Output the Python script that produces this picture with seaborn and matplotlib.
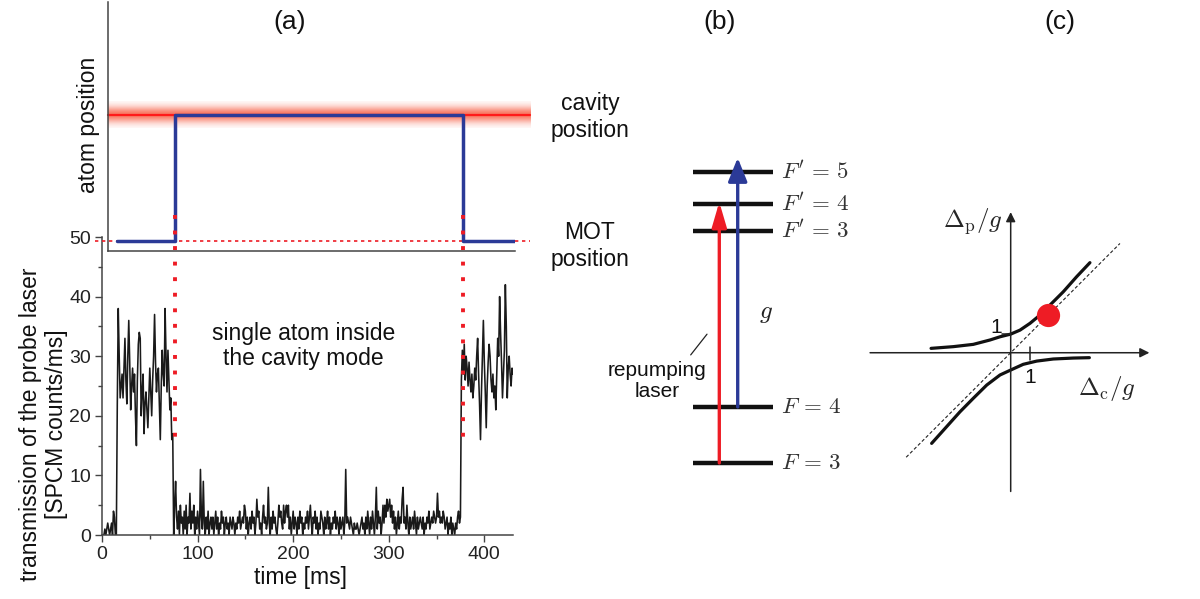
import numpy as np
import pandas as pd
import matplotlib
matplotlib.use('Agg')
import matplotlib.pyplot as plt
import seaborn as sns

# ---------------- data ----------------
# (a) probe transmission [SPCM counts/ms], one sample per ms
before_load = [0, 0, 0, 1, 0, 1, 2, 1, 0, 1, 2, 0, 4, 3, 0, 0]
atom_loading = [22, 38, 30, 23, 25, 27, 23, 28, 33, 26, 22, 30, 36, 29, 21, 25, 28, 24, 27, 20,
                15, 26, 32, 34, 33, 20, 24, 27, 17, 22, 24, 21, 18, 23, 28, 24, 20, 26, 30, 37,
                29, 24, 27, 28, 22, 16, 25, 31, 27, 25, 38, 30, 24, 31, 26, 21, 23, 16, 17]
atom_in_cavity = [0, 5, 9, 3, 1, 4, 0, 5, 2, 3, 0, 4, 1, 5, 0, 3, 2, 7, 1, 4,
                  2, 5, 0, 3, 1, 4, 2, 0, 11, 3, 1, 9, 2, 0, 3, 1, 4, 0, 2, 3,
                  1, 3, 0, 2, 4, 1, 3, 0, 2, 1, 4, 2, 3, 0, 2, 3, 1, 2, 0, 3,
                  2, 1, 3, 2, 0, 2, 1, 3, 2, 4, 1, 2, 3, 2, 5, 4, 1, 3, 0, 2,
                  3, 1, 4, 2, 3, 0, 2, 6, 3, 4, 1, 2, 0, 3, 5, 2, 3, 1, 2, 8,
                  2, 0, 3, 1, 4, 2, 3, 1, 0, 2, 5, 3, 4, 2, 1, 5, 2, 4, 5, 3,
                  5, 1, 3, 0, 2, 4, 1, 3, 2, 0, 3, 1, 4, 2, 3, 0, 2, 1, 3, 2,
                  4, 1, 3, 5, 2, 0, 3, 2, 4, 1, 3, 0, 2, 1, 4, 3, 2, 0, 3, 1,
                  2, 4, 1, 3, 0, 2, 1, 3, 2, 4, 1, 3, 2, 0, 3, 1, 2, 3, 0, 2,
                  11, 2, 3, 2, 1, 3, 2, 1, 0, 2, 1, 1, 2, 1, 0, 1, 2, 3, 1, 2,
                  0, 3, 1, 4, 2, 0, 3, 1, 4, 2, 0, 3, 8, 1, 4, 2, 3, 0, 2, 5,
                  2, 5, 3, 6, 4, 5, 6, 3, 5, 2, 4, 1, 3, 0, 2, 4, 1, 3, 2, 6,
                  8, 2, 3, 1, 5, 2, 0, 3, 1, 2, 3, 1, 4, 2, 0, 3, 1, 2, 3, 2,
                  1, 3, 0, 2, 1, 3, 2, 4, 1, 2, 3, 2, 4, 3, 2, 3, 7, 3, 4, 2,
                  3, 2, 4, 3, 1, 2, 3, 0, 2, 1, 3, 0, 2, 1, 0, 2, 1, 3, 4, 2]
atom_leaves = [3, 26, 31, 27, 32, 26, 30, 28, 25, 29, 26, 24, 27, 23, 25, 28, 26, 30, 33, 27,
               22, 16, 24, 30, 36, 29, 24, 18, 25, 29, 32, 30, 26, 24, 27, 23, 25, 21, 27, 33,
               30, 40, 34, 29, 23, 27, 31, 42, 35, 23, 28, 30, 27, 25, 28, 27]
counts = before_load + atom_loading + atom_in_cavity + atom_leaves
time_ms = np.arange(len(counts))

# (a) atom position (0 = MOT, 1 = cavity)
step_times = [15, 75, 375, 433]
step_pos = [0, 1, 0, 0]
enter_t, exit_t = 75, 375
mot_level, cavity_level = 0, 1

# (b) level scheme, energies in units of the F=3 -> F=4 splitting
levels = [0.0, 1.0, 4.143, 4.625, 5.196]
level_labels = [r"$F\,=\,3$", r"$F\,=\,4$", r"$F'\,=\,3$", r"$F'\,=\,4$", r"$F'\,=\,5$"]

# (c) dressed states (units of g)
upper_dc = [-4.19, -3.02, -1.97, -1.09, -0.56, 0.0, 0.49, 1.02, 1.54, 2.07, 2.77, 3.47, 4.17]
upper_dp = [0.23, 0.32, 0.44, 0.67, 0.84, 0.98, 1.19, 1.55, 1.98, 2.51, 3.21, 4.00, 4.74]
lower_dc = [-4.16, -3.37, -2.67, -1.97, -1.26, -0.56, 0.0, 0.66, 1.37, 2.24, 3.29, 4.14]
lower_dp = [-4.77, -3.89, -3.11, -2.40, -1.70, -1.17, -0.91, -0.61, -0.44, -0.33, -0.28, -0.26]
diag = [-5.5, 5.75]
probe_point = (1.98, 1.98)

# ---------------- style ----------------
sns.set_style('ticks')
plt.rcParams['font.family'] = ['Liberation Sans', 'DejaVu Sans']
plt.rcParams['mathtext.fontset'] = 'cm'

RED = '#EE1C25'
BLUE = '#2B3A97'
AXC = '#444444'
W, H = 1200, 599

fig = plt.figure(figsize=(12, 5.99), dpi=100)

# ---------------- (a) lower: transmission ----------------
ax_lo = fig.add_axes([102 / W, 1 - 535 / H, 411 / W, 298 / H])
sns.lineplot(x=time_ms, y=counts, ax=ax_lo, color='#1a1a1a', lw=1.15)
ax_lo.set_xlim(0, 430)
ax_lo.set_ylim(0, 50)
ax_lo.set_xticks([0, 100, 200, 300, 400])
ax_lo.set_xticks(np.arange(50, 430, 100), minor=True)
ax_lo.set_yticks(np.arange(0, 51, 10))
ax_lo.set_yticks(np.arange(5, 50, 10), minor=True)
ax_lo.tick_params(which='major', direction='out', length=5, width=1, color=AXC,
                  labelsize=14, labelcolor='#222222', pad=3)
ax_lo.tick_params(which='minor', direction='out', length=3, width=1, color=AXC)
for s in ['top', 'right']:
    ax_lo.spines[s].set_visible(False)
for s in ['left', 'bottom']:
    ax_lo.spines[s].set_color(AXC)
    ax_lo.spines[s].set_linewidth(1.1)
ax_lo.set_ylabel('transmission of the probe laser\n[SPCM counts/ms]', fontsize=16.5,
                 linespacing=1.15, va='center', ha='center', color='#111111')
ax_lo.yaxis.set_label_coords(-0.143, 0.372)
ax_lo.set_xlabel('time [ms]', fontsize=16.5, va='center', color='#111111')
ax_lo.xaxis.set_label_coords(0.482, -0.144)

ax_lo.text(0.49, 0.635, 'single atom inside\nthe cavity mode', transform=ax_lo.transAxes,
           ha='center', va='center', fontsize=16.5, linespacing=1.1, color='#111111')

# ---------------- (a) upper: atom position ----------------
ax_top = fig.add_axes([108 / W, 1 - 251 / H, 407 / W, 249 / H], facecolor='none')
x0, x1 = 5.2, 429.2

prof = np.linspace(-1, 1, 81)
glow = np.zeros((81, 1, 4))
glow[:, 0, 0] = 0.97
glow[:, 0, 1] = 0.38
glow[:, 0, 2] = 0.28
glow[:, 0, 3] = 0.85 * np.exp(-(prof / 0.6) ** 2)
im = ax_top.imshow(glow, extent=(x0, 445, cavity_level - 0.105, cavity_level + 0.105),
                   aspect='auto', origin='lower', interpolation='bilinear', zorder=1)
im.set_clip_on(False)
ax_top.plot([x0, 445], [cavity_level, cavity_level], color='#FF1A1A', lw=1.6,
            clip_on=False, zorder=2)
ax_top.plot([-8.5, 445], [mot_level, mot_level], color=RED, lw=1.2, ls=(0, (2, 2.2)),
            clip_on=False, zorder=2)
# dotted markers of the entry / exit times, running down into the lower panel
for t in [enter_t, exit_t]:
    ax_top.plot([t, t], [0.207, -1.603], color=RED, lw=2.8, ls=(0, (1, 3.0)),
                dash_capstyle='butt', clip_on=False, zorder=4)
ax_top.step(step_times, step_pos, where='post', color=BLUE, lw=2.5, zorder=3)

ax_top.set_xlim(x0, x1)
ax_top.set_ylim(-0.079, 1.897)
ax_top.set_xticks([])
ax_top.set_yticks([])
for s in ['top', 'right']:
    ax_top.spines[s].set_visible(False)
for s in ['left', 'bottom']:
    ax_top.spines[s].set_color(AXC)
    ax_top.spines[s].set_linewidth(1.1)
ax_top.set_ylabel('atom position', fontsize=16.5, va='center', ha='center', color='#111111')
ax_top.yaxis.set_label_coords(-0.049, 0.506)

fig.text(590 / W, 1 - 117 / H, 'cavity\nposition', ha='center', va='center',
         fontsize=16.5, linespacing=1.2, color='#111111')
fig.text(590 / W, 1 - 246 / H, 'MOT\nposition', ha='center', va='center',
         fontsize=16.5, linespacing=1.2, color='#111111')

# ---------------- (b) level scheme ----------------
ax_b = fig.add_axes([600 / W, 1 - 500 / H, 300 / W, 370 / H])
ax_b.set_xlim(0, 300)
ax_b.set_ylim(-0.661, 5.946)
ax_b.axis('off')
ax_b.hlines(levels, 93, 173, color='#111111', lw=3.2)
for e, lab in zip(levels, level_labels):
    ax_b.text(181, e, lab, ha='left', va='center', fontsize=16.5, color='#333333')
ax_b.annotate('', xy=(119.3, 4.66), xytext=(119.3, levels[0]),
              arrowprops=dict(arrowstyle='-|>,head_length=0.75,head_width=0.22',
                              mutation_scale=20, color=RED, lw=2.4, shrinkA=0, shrinkB=0))
ax_b.annotate('', xy=(137.7, 5.45), xytext=(137.7, levels[1]),
              arrowprops=dict(arrowstyle='-|>,head_length=0.72,head_width=0.29',
                              mutation_scale=20, color=BLUE, lw=2.4, shrinkA=0, shrinkB=0))
ax_b.text(165.7, 2.67, r'$g$', ha='center', va='center', fontsize=18, color='#222222')
ax_b.plot([107, 90.7], [2.30, 1.93], color='#222222', lw=0.9)
ax_b.text(57, 1.46, 'repumping\nlaser', ha='center', va='center', fontsize=15,
          linespacing=1.1, color='#111111')

# ---------------- (c) avoided crossing ----------------
ax_c = fig.add_axes([860 / W, 1 - 500 / H, 320 / W, 320 / H])
ax_c.set_xlim(-7.93, 8.91)
ax_c.set_ylim(-7.75, 9.09)
ax_c.axis('off')
arr = dict(arrowstyle='-|>', mutation_scale=14, color='#222222', lw=1.1, shrinkA=0, shrinkB=0)
ax_c.annotate('', xy=(7.3, 0), xytext=(-7.4, 0), arrowprops=arr)
ax_c.annotate('', xy=(0, 7.4), xytext=(0, -7.3), arrowprops=arr)
ax_c.plot(diag, diag, color='#222222', lw=0.8, ls=(0, (3, 2)))
sns.lineplot(x=upper_dc, y=upper_dp, ax=ax_c, color='#111111', lw=2.3, sort=False)
sns.lineplot(x=lower_dc, y=lower_dp, ax=ax_c, color='#111111', lw=2.3, sort=False)
ax_c.scatter([probe_point[0]], [probe_point[1]], s=280, color=RED, zorder=5, linewidths=0)
ax_c.plot([1, 1], [-0.38, 0.3], color='#222222', lw=1.1)
ax_c.plot([-0.45, 0], [1, 1], color='#222222', lw=1.1)
ax_c.text(1.02, -1.3, '1', ha='center', va='center', fontsize=15, color='#111111')
ax_c.text(-0.75, 1.35, '1', ha='center', va='center', fontsize=15, color='#111111')
ax_c.text(-1.97, 6.9, r'$\Delta_{\rm p}/g$', ha='center', va='center', fontsize=18)
ax_c.text(5.07, -1.86, r'$\Delta_{\rm c}/g$', ha='center', va='center', fontsize=18)

# ---------------- panel letters ----------------
for x, lab in [(290, '(a)'), (720, '(b)'), (1060, '(c)')]:
    fig.text(x / W, 1 - 22 / H, lab, ha='center', va='center', fontsize=19, color='#111111')

fig.savefig('out.png', dpi=100)
